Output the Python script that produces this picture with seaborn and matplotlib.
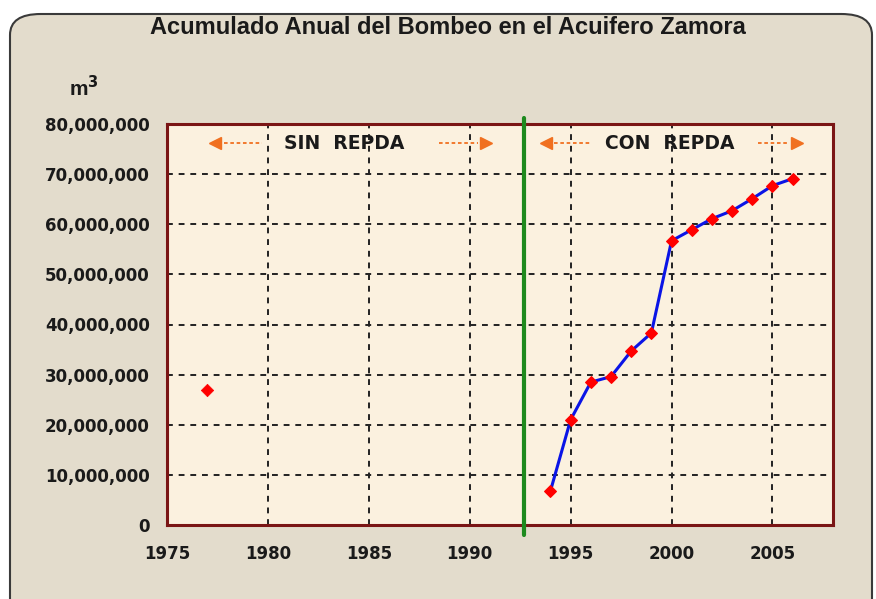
import matplotlib
matplotlib.use("Agg")
import matplotlib.pyplot as plt
import seaborn as sns
import pandas as pd
from matplotlib.patches import FancyBboxPatch
from matplotlib.ticker import FuncFormatter

years_repda = [1994, 1995, 1996, 1997, 1998, 1999, 2000, 2001, 2002, 2003, 2004, 2005, 2006]
vol_repda = [6.8e6, 21.0e6, 28.5e6, 29.6e6, 34.7e6, 38.3e6, 56.7e6, 58.9e6, 61.1e6, 62.7e6, 65.1e6, 67.7e6, 69.1e6]
years_sin = [1977]
vol_sin = [26.9e6]
xticks = [1975, 1980, 1985, 1990, 1995, 2000, 2005]
yticks = [0, 10e6, 20e6, 30e6, 40e6, 50e6, 60e6, 70e6, 80e6]
title = "Acumulado Anual del Bombeo en el Acuifero Zamora"
split_year = 1992.7

sns.set_theme(style="white")
plt.rcParams['font.family'] = ['DejaVu Sans']

fig = plt.figure(figsize=(8.76, 5.99), dpi=100)
fig.patch.set_facecolor("white")
bg = FancyBboxPatch((10/876, -0.05), 862/876, 1 - 14/599 + 0.05,
                    boxstyle="round,pad=0,rounding_size=0.035",
                    transform=fig.transFigure, facecolor="#E3DCCC",
                    edgecolor="#3A3A3A", linewidth=1.5, zorder=-10)
fig.patches.append(bg)

ax = fig.add_axes([167/876, 1 - 525/599, (833 - 167)/876, (525 - 124)/599])
ax.set_facecolor("#FBF1DF")

df_r = pd.DataFrame({"year": years_repda, "vol": vol_repda})
df_s = pd.DataFrame({"year": years_sin, "vol": vol_sin})
sns.lineplot(data=df_r, x="year", y="vol", ax=ax, color="#0A14E6", linewidth=2.2,
             marker="D", markersize=6.5, markerfacecolor="#FF0000",
             markeredgecolor="#FF0000", zorder=4)
sns.scatterplot(data=df_s, x="year", y="vol", ax=ax, color="#FF0000", marker="D",
                s=40, edgecolor="#FF0000", zorder=4)

ax.set_xlim(1975, 2008)
ax.set_ylim(0, 80e6)
ax.set_xticks(xticks)
ax.set_yticks(yticks)
ax.yaxis.set_major_formatter(FuncFormatter(lambda v, p: f"{int(v):,}"))
ax.set_xlabel("")
ax.set_ylabel("")
ax.grid(True, color="#222222", linestyle=(0, (3, 3)), linewidth=1.4)
ax.set_axisbelow(True)
for s in ax.spines.values():
    s.set_color("#7A1515")
    s.set_linewidth(2.2)
ax.tick_params(axis="both", which="both", length=5, width=1.5, color="#333333",
               labelsize=12, pad=4, direction="inout")
for lab in ax.get_xticklabels() + ax.get_yticklabels():
    lab.set_fontweight("bold")
    lab.set_color("#1A1A1A")
ax.tick_params(axis="x", pad=12)
ax.tick_params(axis="y", pad=10)

ax.axvline(split_year, ymin=-0.025, ymax=1.015, color="#1E8A1E", linewidth=3, clip_on=False, zorder=5)

orange = "#F07020"
def arrow_label(text, xc, x_left_head, x_left_end, x_right_start, x_right_head):
    yv = 76.2e6
    ax.text(xc, yv, text, ha="center", va="center", fontsize=13.5, fontweight="bold",
            color="#1A1A1A", zorder=6)
    ax.plot([x_left_head + 0.4, x_left_end], [yv, yv], color=orange, linestyle=(0, (2, 1.5)), lw=1.3, zorder=6)
    ax.plot([x_right_start, x_right_head - 0.4], [yv, yv], color=orange, linestyle=(0, (2, 1.5)), lw=1.3, zorder=6)
    ax.plot([x_left_head], [yv], marker="<", color=orange, markersize=9, zorder=6)
    ax.plot([x_right_head], [yv], marker=">", color=orange, markersize=9, zorder=6)

arrow_label("SIN  REPDA", 1983.8, 1977.4, 1979.7, 1988.5, 1990.8)
arrow_label("CON  REPDA", 1999.9, 1993.8, 1996.0, 2004.3, 2006.2)

fig.text(448/876, 1 - 28/599, title, ha="center", va="center", fontsize=17,
         fontweight="bold", color="#1A1A1A", family=['Liberation Sans', 'DejaVu Sans'])
fig.text(84/876, 1 - 88/599, "m$^{\\mathbf{3}}$", ha="center", va="center", fontsize=15,
         fontweight="bold", color="#1A1A1A", family=['Liberation Sans', 'DejaVu Sans'])

fig.savefig("out.png", dpi=100, facecolor=fig.get_facecolor())
